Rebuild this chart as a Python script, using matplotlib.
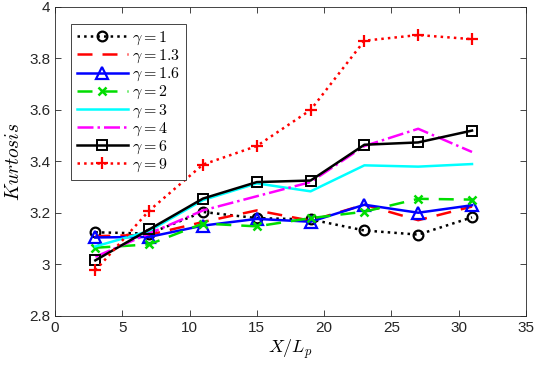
import matplotlib
matplotlib.use('Agg')
import matplotlib.pyplot as plt

plt.rcParams['font.family'] = ['Liberation Sans', 'DejaVu Sans']
plt.rcParams['mathtext.fontset'] = 'cm'

# Dades llegides de la figura
x = [3, 7, 11, 15, 19, 23, 27, 31]
k_g1 = [3.125, 3.12, 3.204, 3.18, 3.175, 3.132, 3.116, 3.183]
k_g13 = [3.11, 3.115, 3.165, 3.21, 3.17, 3.232, 3.172, 3.225]
k_g16 = [3.105, 3.107, 3.151, 3.177, 3.166, 3.232, 3.201, 3.23]
k_g2 = [3.065, 3.078, 3.159, 3.148, 3.18, 3.205, 3.255, 3.252]
k_g3 = [3.07, 3.13, 3.25, 3.315, 3.284, 3.385, 3.38, 3.39]
k_g4 = [3.03, 3.12, 3.21, 3.265, 3.32, 3.46, 3.527, 3.437]
k_g6 = [3.016, 3.136, 3.256, 3.32, 3.326, 3.465, 3.474, 3.52]
k_g9 = [2.977, 3.209, 3.388, 3.46, 3.60, 3.869, 3.891, 3.875]
labels = ['1', '1.3', '1.6', '2', '3', '4', '6', '9']

fig = plt.figure(figsize=(5.36, 3.67), dpi=100)
ax = fig.add_axes([0.1026, 0.139, 0.8784, 0.842])

lw = 1.8
ax.plot(x, k_g1, ':', color='black', marker='o', mfc='none', ms=7, mew=1.6, lw=lw, label=r'$\gamma = %s$' % labels[0])
ax.plot(x, k_g13, '--', color='red', lw=lw, dashes=(6, 4), label=r'$\gamma = %s$' % labels[1])
ax.plot(x, k_g16, '-', color='blue', marker='^', mfc='none', ms=8, mew=1.6, lw=lw, label=r'$\gamma = %s$' % labels[2])
ax.plot(x, k_g2, '--', color='#00dd00', marker='x', ms=6, mew=1.8, lw=lw, dashes=(6, 4), label=r'$\gamma = %s$' % labels[3])
ax.plot(x, k_g3, '-', color='cyan', lw=lw, label=r'$\gamma = %s$' % labels[4])
ax.plot(x, k_g4, '-.', color='magenta', lw=lw, label=r'$\gamma = %s$' % labels[5])
ax.plot(x, k_g6, '-', color='black', marker='s', mfc='none', ms=6.5, mew=1.4, lw=lw, label=r'$\gamma = %s$' % labels[6])
ax.plot(x, k_g9, ':', color='red', marker='+', ms=9, mew=1.6, lw=lw, label=r'$\gamma = %s$' % labels[7])

ax.set_xlim(0, 35)
ax.set_ylim(2.8, 4)
ax.set_xticks(range(0, 36, 5))
ax.set_yticks([2.8, 3, 3.2, 3.4, 3.6, 3.8, 4])
ax.set_yticklabels(['2.8', '3', '3.2', '3.4', '3.6', '3.8', '4'])
ax.tick_params(direction='in', top=True, right=True, labelsize=11, length=4, width=0.6, colors='#262626')
for s in ax.spines.values():
    s.set_linewidth(0.6)
    s.set_color('#262626')

ax.set_xlabel(r'$X/L_p$', fontsize=13, labelpad=2)
ax.set_ylabel(r'$Kurtosis$', fontsize=14, labelpad=4)

leg = ax.legend(loc='upper left', bbox_to_anchor=(0.034, 0.945), borderaxespad=0,
                fontsize=11.5, handlelength=3.2, handletextpad=0.3, labelspacing=0.05,
                borderpad=0.35, fancybox=False, edgecolor='#262626', framealpha=1)
leg.get_frame().set_linewidth(0.6)

plt.savefig('out.png', dpi=100, facecolor='white')
